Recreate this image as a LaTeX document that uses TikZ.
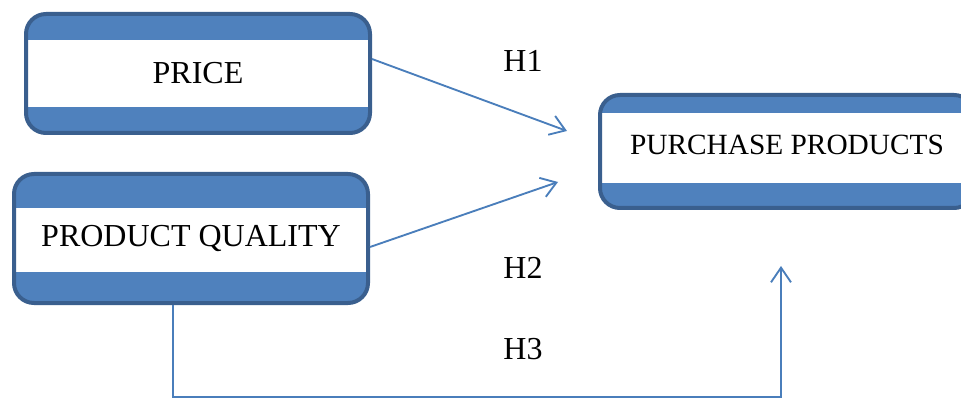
\documentclass[tikz,border=0pt]{standalone}
\usepackage{fontspec}
\setmainfont{Liberation Serif}
\usetikzlibrary{positioning,calc,arrows.meta}
\definecolor{boxblue}{HTML}{4F81BD}
\definecolor{boxedge}{HTML}{3A5F8E}
\definecolor{linkblue}{HTML}{4A7EBB}
\tikzset{bandbox/.style 2 args={draw=boxedge, line width=3pt, fill=boxblue, rounded corners=15pt, inner sep=0pt, font=\fontsize{24}{28}\selectfont,
    path picture={\fill[white, sharp corners] ([yshift=#1/2+#2]path picture bounding box.west) rectangle ([yshift=-#1/2+#2]path picture bounding box.east);}}}
\tikzset{link/.style={draw=linkblue, line width=1.4pt, -{Straight Barb[length=11pt, width=15pt]}}}
\tikzset{hlabel/.style={font=\fontsize{24}{28}\selectfont, inner sep=0pt}}
\begin{document}
\begin{tikzpicture}[x=0.75pt, y=-0.75pt]
   \useasboundingbox (0,0) rectangle (961,399);
   % boxes
   \node[bandbox={50pt}{0pt}, minimum width=258pt, minimum height=89.25pt] (price) at (198,73.5) {PRICE};
   \node[bandbox={48pt}{-1pt}, minimum width=265.5pt, minimum height=96.75pt] (quality) at (191,238.5) {PRODUCT QUALITY};
   \node[bandbox={52.5pt}{2.6pt}, minimum width=280.5pt, minimum height=84.75pt, text depth=10.5pt, font=\fontsize{22}{26}\selectfont] (purchase) at (787,151.5) {PURCHASE PRODUCTS};
   % free ends
   \coordinate (h1tip) at (567,131);
   \coordinate (h2tip) at (558,182);
   \coordinate (h3low) at (781,397);
   \coordinate (h3tip) at (781,266);
   % links
   \draw[link] ($(price.east)+(0,-14.5)$) -- (h1tip);
   \draw[link] ($(quality.east)+(0,8.5)$) -- (h2tip);
   \draw[link] ($(quality.south)+(-18,0)$) |- (h3low) -- (h3tip);
   % hypotheses
   \node[hlabel] (h1) at (523,61) {H1};
   \node[hlabel] (h2) at (523,268) {H2};
   \node[hlabel] (h3) at (523,349) {H3};
\end{tikzpicture}
\end{document}
